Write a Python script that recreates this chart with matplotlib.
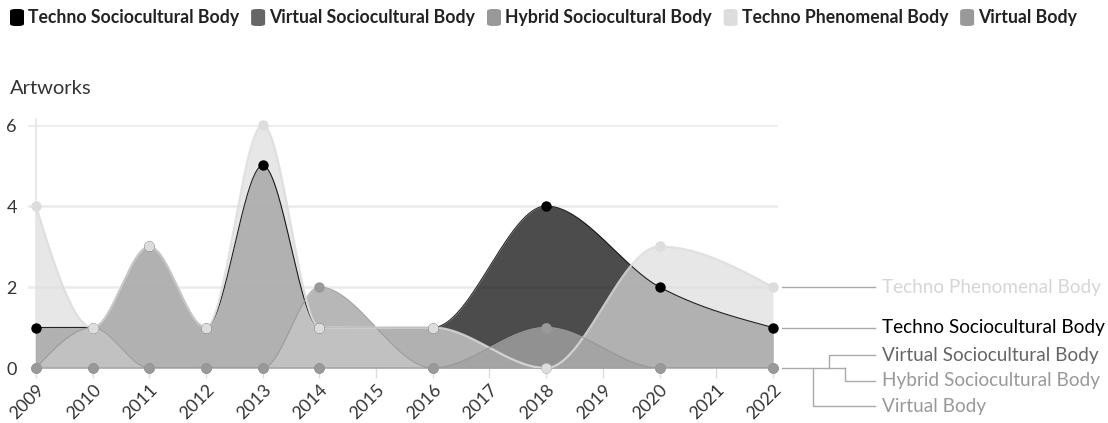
import numpy as np
import matplotlib
matplotlib.use("Agg")
import matplotlib.pyplot as plt
from matplotlib.patches import FancyBboxPatch

plt.rcParams['font.family'] = ['Lato', 'DejaVu Sans']

# data
years = [2009, 2010, 2011, 2012, 2013, 2014, 2016, 2018, 2020, 2022]
techno_socio = [1, 1, 3, 1, 5, 1, 1, 4, 2, 1]
virtual_socio = [0, 0, 0, 0, 0, 0, 0, 0, 0, 0]
hybrid_socio = [0, 1, 0, 0, 0, 2, 0, 1, 0, 0]
techno_phen = [4, 1, 3, 1, 6, 1, 1, 0, 3, 2]
virtual_body = [0, 0, 0, 0, 0, 0, 0, 1, 0, 0]

names = ["Techno Sociocultural Body", "Virtual Sociocultural Body",
         "Hybrid Sociocultural Body", "Techno Phenomenal Body", "Virtual Body"]
series = [techno_socio, virtual_socio, hybrid_socio, techno_phen, virtual_body]
colors = ["#000000", "#666666", "#999999", "#dddddd", "#999999"]
line_w = [0.8, 0.8, 0.8, 1.6, 0.8]
tick_years = list(range(2009, 2023))


def monotone(x, y, n=60):
    # monotone cubic (same as d3 curveMonotoneX)
    x = np.asarray(x, float)
    y = np.asarray(y, float)
    h = np.diff(x)
    s = np.diff(y) / h
    t = np.zeros(len(x))
    for i in range(1, len(x) - 1):
        s0, s1, h0, h1 = s[i - 1], s[i], h[i - 1], h[i]
        p = (s0 * h1 + s1 * h0) / (h0 + h1)
        sg = (-1 if s0 < 0 else 1) + (-1 if s1 < 0 else 1)
        t[i] = sg * min(abs(s0), abs(s1), 0.5 * abs(p))
    t[0] = (3 * s[0] - t[1]) / 2
    t[-1] = (3 * s[-1] - t[-2]) / 2
    xs, ys = [], []
    u = np.linspace(0, 1, n)
    for i in range(len(x) - 1):
        y0, y1, dx = y[i], y[i + 1], h[i]
        c1 = y0 + dx * t[i] / 3
        c2 = y1 - dx * t[i + 1] / 3
        yy = (1 - u) ** 3 * y0 + 3 * (1 - u) ** 2 * u * c1 + 3 * (1 - u) * u ** 2 * c2 + u ** 3 * y1
        xs.append(x[i] + u * dx)
        ys.append(yy)
    return np.concatenate(xs), np.concatenate(ys)


fig = plt.figure(figsize=(11.08, 4.23), dpi=100)
ax = fig.add_axes([28 / 1108, 55 / 423, 750 / 1108, 243 / 423])

for i, (vals, c) in enumerate(zip(series, colors)):
    xs, ys = monotone(years, vals)
    ax.fill_between(xs, 0, ys, color=c, alpha=0.7, lw=0, zorder=2 + i)
for i, (vals, c) in enumerate(zip(series, colors)):
    xs, ys = monotone(years, vals)
    ax.plot(xs, ys, color=c, lw=line_w[i], alpha=0.85, zorder=10 + i)
for i, (vals, c) in enumerate(zip(series, colors)):
    ax.plot(years, vals, 'o', ms=7.5, color=c, mec='none', zorder=20 + i, clip_on=False)

ax.set_xlim(2008.86, 2022.09)
ax.set_ylim(0, 6)
for sp in ax.spines.values():
    sp.set_visible(False)
for g in [2, 4, 6]:
    ax.axhline(g, color='#ebebeb', lw=1.8, zorder=0)
ax.plot([2009, 2009], [0, 6.15], color='#e6e6e6', lw=1.2, zorder=0, clip_on=False)

ax.set_yticks([0, 2, 4, 6])
ax.set_yticklabels(['0', '2', '4', '6'], fontsize=13, color='#333333')
ax.tick_params(axis='y', length=0, pad=8)
ax.set_xticks(tick_years)
ax.set_xticklabels([str(y) for y in tick_years], rotation=45, ha='right',
                   rotation_mode='anchor', fontsize=12.8, color='#333333')
ax.tick_params(axis='x', length=7, width=1, color='#dddddd', pad=3)

fig.text(10 / 1108, 1 - 88 / 423, "Artworks", fontsize=14.5, color='#333333', va='center', ha='left')

# right-hand labels with connectors
lab_y = {0: 1, 1: 0.32, 2: -0.32, 3: 2, 4: -0.94}
lab_col = ["#000000", "#666666", "#999999", "#d6d6d6", "#999999"]
kw = dict(color='#aaaaaa', lw=1, clip_on=False, zorder=1)
ax.plot([2022.16, 2023.8], [techno_phen[-1]] * 2, **kw)
ax.plot([2022.16, 2023.8], [techno_socio[-1]] * 2, **kw)
ax.plot([2022.16, 2023.27], [0, 0], **kw)
ax.plot([2022.99, 2022.99, 2023.8], [0, lab_y[1], lab_y[1]], **kw)
ax.plot([2023.27, 2023.27, 2023.8], [0, lab_y[2], lab_y[2]], **kw)
ax.plot([2022.7, 2022.7, 2023.8], [0, lab_y[4], lab_y[4]], **kw)
for i in range(5):
    ax.text(2023.92, lab_y[i], names[i], fontsize=13.7, color=lab_col[i],
            va='center', ha='left', clip_on=False)

# legend on top
fig.canvas.draw()
r = fig.canvas.get_renderer()
x = 10
for name, c in zip(names, colors):
    fig.patches.append(FancyBboxPatch((x / 1108, 1 - 26 / 423), 14 / 1108, 17 / 423,
                                      boxstyle="round,pad=0,rounding_size=0.005",
                                      transform=fig.transFigure, fc=c, ec='none'))
    t = fig.text((x + 18) / 1108, 1 - 17 / 423, name, fontsize=12.7, fontweight='bold',
                 color='#222222', va='center', ha='left')
    w = t.get_window_extent(r).width
    x = x + 18 + w + 12

fig.savefig("out.png", dpi=100)
